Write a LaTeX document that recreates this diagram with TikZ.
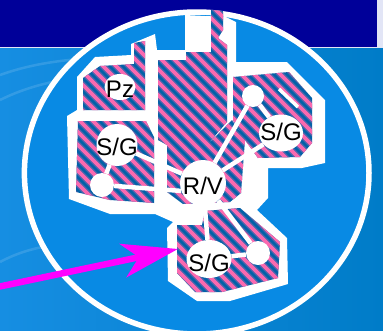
\documentclass[tikz,border=0pt]{standalone}
\usepackage{fontspec}
\newfontfamily\labelfont{Liberation Sans}
\usetikzlibrary{shapes.geometric,arrows.meta}
\definecolor{band}{RGB}{0,0,153}
\definecolor{bandedge}{RGB}{226,229,246}
\definecolor{bgleft}{RGB}{22,142,226}
\definecolor{bgright}{RGB}{0,124,200}
\definecolor{inner}{RGB}{8,138,228}
\definecolor{stripedark}{RGB}{0,98,168}
\definecolor{stripepink}{RGB}{250,105,175}
\definecolor{arrowmag}{RGB}{255,0,255}
\newcommand{\lab}[2]{\smash{\makebox[0pt]{\raisebox{-#2}{#1}}}}
\begin{document}
\begin{tikzpicture}[x=1pt,y=-1pt,
  place/.style={ellipse,fill=white,inner sep=0pt,text=black,
    font=\labelfont\fontsize{24}{28}\selectfont},
  netdot/.style={circle,fill=white,inner sep=0pt},
  link/.style={white,line width=4.5pt},
  swirl/.style={white,opacity=0.13,line width=2.5pt}]
\useasboundingbox (0,0) rectangle (383,330);
% background
\shade[left color=bgleft,right color=bgright] (0,0) rectangle (383,330);
\draw[swirl] (0,75) .. controls (25,66) and (55,60) .. (95,58);
\draw[swirl] (0,100) .. controls (20,90) and (45,82) .. (75,78);
\draw[swirl] (0,262) .. controls (15,254) and (30,249) .. (48,246);
\fill[band] (0,0) rectangle (377,46.5);
\fill[bandedge] (377,0) rectangle (383,48);
\draw[bandedge,line width=1.6pt] (0,47.3) -- (377,47.3);
% ring
\fill[inner] (196.7,173) ellipse [x radius=172.3,y radius=161];
\draw[white,line width=5.5pt] (196.7,173) ellipse [x radius=172.3,y radius=161];
% white silhouette
\fill[white] (77,77) -- (95,57) -- (131,55) -- (131,44) -- (155,34) -- (157,50)
  -- (185,50) -- (185,15) -- (226,17) -- (236,22) -- (236,62) -- (287,62)
  -- (325,100) -- (325,163) -- (302,168) -- (268,168) -- (268,198) -- (257,210)
  -- (287,238) -- (288,284) -- (230,301) -- (197,301) -- (168,281) -- (167,228)
  -- (173,222) -- (155,214) -- (110,214) -- (69,199) -- (67,116) -- (77,110) -- cycle;
% striped regions
\begin{scope}
\clip (83,78) -- (100,66) -- (134,64) -- (134,43) -- (145,41) -- (145,110) -- (83,110) -- cycle
  (78,121) -- (146,121) -- (154,137) -- (154,203) -- (110,200) -- (76,192) -- cycle
  (158,60) -- (186,60) -- (186,52) -- (211,52) -- (211,10) -- (223,11) -- (223,30)
    -- (218,38) -- (227,45) -- (227,122) -- (207,145) -- (167,145) -- (158,140) -- cycle
  (167,145) -- (207,145) -- (232,120) -- (245,140) -- (241,193) -- (230,202)
    -- (183,204) -- (167,192) -- cycle
  (233,77) -- (289,72) -- (312,98) -- (312,143) -- (300,157) -- (258,158)
    -- (245,140) -- (233,120) -- cycle
  (177,225) -- (202,225) -- (205,211) -- (240,208) -- (280,242) -- (278,278)
    -- (222,292) -- (195,292) -- (177,273) -- cycle;
\fill[stripedark] (0,0) rectangle (383,330);
\foreach \k in {-340,-327,...,395} {
  \draw[stripepink,opacity=0.3,line width=6.5pt] (\k,0) -- ++(340,340);
  \draw[stripepink,line width=3.6pt] (\k,0) -- ++(340,340);
}
\end{scope}
\draw[white,line width=3.5pt] (279,89) -- (298,107);
% nodes
\node[place,minimum width=31pt,minimum height=26pt] (pz) at (120,87) {\lab{Pz}{10.6pt}};
\node[place,minimum width=41pt,minimum height=42pt] (lsg) at (117,145) {\lab{S/G}{10.6pt}};
\node[place,minimum width=44pt,minimum height=37pt] (usg) at (281,133) {\lab{S/G}{7.6pt}};
\node[place,minimum width=46pt,minimum height=46pt] (rv) at (203,183) {\lab{R/V}{11.6pt}};
\node[place,minimum width=45pt,minimum height=38pt] (bsg) at (209,259) {\lab{S/G}{12.6pt}};
\node[netdot,minimum size=24pt] (ldot) at (102,185) {};
\node[netdot,minimum size=22pt] (udot) at (253,96) {};
\node[netdot,minimum size=24pt] (bdot) at (258,253) {};
% connectors
\draw[link] (lsg) -- (ldot);
\draw[link] (ldot) -- (rv.200);
\draw[link] (lsg) -- (rv);
\draw[link] (rv) -- (udot);
\draw[link] (udot) -- (usg);
\draw[link] (rv) -- (usg);
\draw[link] (rv) -- (bsg);
\draw[link] (rv.-49) -- (bdot);
\draw[link] (bsg) -- (bdot);
% pointer arrow
\coordinate (astart) at (-5,287.5);
\coordinate (atip) at (178,249);
\draw[arrowmag,line width=6.5pt,-{Stealth[length=56pt,width=34pt,inset=16pt]}] (astart) -- (atip);
\end{tikzpicture}
\end{document}
